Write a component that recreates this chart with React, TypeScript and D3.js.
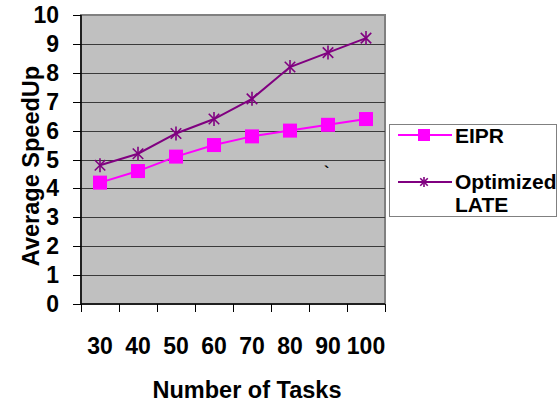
import React from "react";
import * as d3 from "d3";

const categories = ["30", "40", "50", "60", "70", "80", "90", "100"];
const eiprValues = [4.2, 4.6, 5.1, 5.5, 5.8, 6.0, 6.2, 6.4];
const lateValues = [4.8, 5.2, 5.9, 6.4, 7.1, 8.2, 8.7, 9.2];
const yTicks = [0, 1, 2, 3, 4, 5, 6, 7, 8, 9, 10];
const seriesNames = ["EIPR", "Optimized", "LATE"];

const W = 558;
const H = 405;
const plot = { left: 81, right: 385, top: 15, bottom: 304 };
const EIPR_COLOR = "#FF00FF";
const LATE_COLOR = "#800080";
const textStyle: React.CSSProperties = {
  fontFamily: "Liberation Sans, Arial, sans-serif",
  fontWeight: 700,
};

function Star({ x, y, r, color }: { x: number; y: number; r: number; color: string }) {
  const d = r * 0.75;
  return (
    <g stroke={color} strokeWidth={1.6}>
      <line x1={x} y1={y - r} x2={x} y2={y + r} />
      <line x1={x - d} y1={y - d} x2={x + d} y2={y + d} />
      <line x1={x - d} y1={y + d} x2={x + d} y2={y - d} />
    </g>
  );
}

export default function App() {
  const x = d3.scaleBand<string>().domain(categories).range([plot.left, plot.right]);
  const y = d3.scaleLinear().domain([0, 10]).range([plot.bottom, plot.top]);
  const cx = (c: string) => (x(c) as number) + x.bandwidth() / 2;

  const line = d3
    .line<number>()
    .x((_, i) => cx(categories[i]))
    .y((v) => y(v));

  const xEdges = [...categories.map((c) => x(c) as number), plot.right];

  return (
    <svg
      width={W}
      height={H}
      style={{ position: "absolute", left: 0, top: 0, background: "#fff" }}
    >
      {/* plot background */}
      <rect
        x={plot.left}
        y={plot.top}
        width={plot.right - plot.left}
        height={plot.bottom - plot.top}
        fill="#C0C0C0"
        stroke="#808080"
        strokeWidth={2}
      />
      {/* horizontal grid */}
      {yTicks.slice(1, -1).map((t) => (
        <line
          key={t}
          x1={plot.left}
          x2={plot.right}
          y1={Math.round(y(t)) + 0.5}
          y2={Math.round(y(t)) + 0.5}
          stroke="#3a3a3a"
          strokeWidth={1}
        />
      ))}
      {/* axes */}
      <line x1={plot.left} x2={plot.left} y1={plot.top} y2={plot.bottom} stroke="#000" strokeWidth={1.5} />
      <line x1={plot.left} x2={plot.right} y1={plot.bottom} y2={plot.bottom} stroke="#000" strokeWidth={1.5} />
      {yTicks.map((t) => (
        <g key={t}>
          <line
            x1={plot.left - 8}
            x2={plot.left}
            y1={Math.round(y(t)) + 0.5}
            y2={Math.round(y(t)) + 0.5}
            stroke="#000"
          />
          <text x={59} y={y(t) + 8} textAnchor="end" fontSize={23} fill="#000" style={textStyle}>
            {t}
          </text>
        </g>
      ))}
      {xEdges.map((e, i) => (
        <line
          key={i}
          x1={Math.round(e) + 0.5}
          x2={Math.round(e) + 0.5}
          y1={plot.bottom}
          y2={plot.bottom + 8}
          stroke="#000"
        />
      ))}
      {categories.map((c) => (
        <text key={c} x={cx(c)} y={354} textAnchor="middle" fontSize={23} fill="#000" style={textStyle}>
          {c}
        </text>
      ))}

      {/* series */}
      <path d={line(eiprValues) || ""} fill="none" stroke={EIPR_COLOR} strokeWidth={2} />
      <path d={line(lateValues) || ""} fill="none" stroke={LATE_COLOR} strokeWidth={2} />
      {eiprValues.map((v, i) => (
        <rect key={i} x={cx(categories[i]) - 7} y={y(v) - 7} width={14} height={14} fill={EIPR_COLOR} />
      ))}
      {lateValues.map((v, i) => (
        <Star key={i} x={cx(categories[i])} y={y(v)} r={7} color={LATE_COLOR} />
      ))}

      <text x={324} y={178} fontSize={16} fill="#000" style={textStyle}>
        `
      </text>

      {/* axis titles */}
      <text x={247} y={398} textAnchor="middle" fontSize={23.5} fill="#000" style={textStyle}>
        Number of Tasks
      </text>
      <text
        transform="translate(39,166) rotate(-90)"
        textAnchor="middle"
        fontSize={23.5}
        fill="#000"
        style={textStyle}
      >
        Average SpeedUp
      </text>

      {/* legend */}
      <rect x={389.5} y={124.5} width={167} height={92} fill="#fff" stroke="#808080" />
      <line x1={398} x2={452} y1={135} y2={135} stroke={EIPR_COLOR} strokeWidth={2} />
      <rect x={418} y={129} width={12} height={12} fill={EIPR_COLOR} />
      <text x={455} y={143} fontSize={21} fill="#000" style={textStyle}>
        {seriesNames[0]}
      </text>
      <line x1={398} x2={452} y1={182} y2={182} stroke={LATE_COLOR} strokeWidth={2} />
      <Star x={424} y={182} r={5} color={LATE_COLOR} />
      <text x={455} y={189} fontSize={21} fill="#000" style={textStyle}>
        {seriesNames[1]}
      </text>
      <text x={455} y={212} fontSize={21} fill="#000" style={textStyle}>
        {seriesNames[2]}
      </text>
    </svg>
  );
}
